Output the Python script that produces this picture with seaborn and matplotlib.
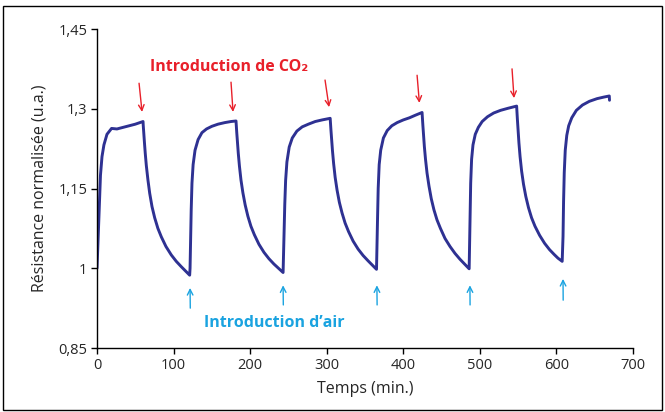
import matplotlib
matplotlib.use("Agg")
import matplotlib.pyplot as plt
import matplotlib.patches as mpatches
import seaborn as sns
import pandas as pd

# ---- data ----
t_c1 = [0, 1.5, 3, 4.5, 6.5, 9, 13, 19, 26, 34, 42, 50, 58, 60.1,
        60.3, 61, 62, 63, 64.4, 66.5, 68.8, 71.8, 75.3, 79.5, 84, 90, 97, 103.5, 110, 115.5, 121]
r_c1 = [1.0, 1.06, 1.12, 1.175, 1.21, 1.232, 1.252, 1.263, 1.262, 1.265, 1.268, 1.271, 1.275, 1.276,
        1.27, 1.255, 1.235, 1.216, 1.193, 1.166, 1.141, 1.116, 1.095, 1.075, 1.059, 1.041, 1.025,
        1.013, 1.003, 0.995, 0.987]
t_c2 = [121.5, 122.3, 123, 124, 125.5, 128, 132, 137, 143, 150, 158, 167, 175, 181.5,
        181.8, 182.5, 183.5, 184.5, 186, 188, 190.5, 193.5, 197, 201, 205.5, 211.5, 218, 224.5,
        231, 237, 243]
r_c2 = [1.0, 1.06, 1.11, 1.16, 1.195, 1.222, 1.242, 1.255, 1.262, 1.267, 1.271, 1.274, 1.276, 1.277,
        1.27, 1.255, 1.236, 1.216, 1.192, 1.166, 1.142, 1.119, 1.098, 1.079, 1.063, 1.045, 1.03,
        1.018, 1.008, 1.0, 0.992]
t_c3 = [243.5, 244.3, 245.2, 246.3, 248, 251, 255, 261, 268, 276, 285, 294, 304.5,
        304.8, 305.5, 306.5, 307.5, 309, 311, 313.5, 316.5, 320, 324, 328.5, 334.5, 341, 347.5,
        354, 359.5, 365]
r_c3 = [1.02, 1.07, 1.12, 1.165, 1.2, 1.228, 1.245, 1.258, 1.266, 1.271, 1.276, 1.279, 1.282,
        1.275, 1.26, 1.241, 1.221, 1.197, 1.171, 1.147, 1.124, 1.104, 1.085, 1.069, 1.051, 1.036,
        1.024, 1.014, 1.006, 0.998]
t_c4 = [365.5, 366.3, 367.2, 368.5, 370.5, 374, 379, 385, 392, 400, 408, 416, 424.5,
        424.8, 425.5, 426.5, 427.5, 429, 431, 433.5, 436.5, 440, 444, 448.5, 454.5, 461, 467.5,
        474, 480, 486]
r_c4 = [1.03, 1.09, 1.15, 1.195, 1.222, 1.245, 1.259, 1.268, 1.274, 1.279, 1.283, 1.288, 1.293,
        1.286, 1.27, 1.25, 1.229, 1.205, 1.179, 1.155, 1.131, 1.11, 1.091, 1.075, 1.056, 1.041,
        1.028, 1.017, 1.008, 0.999]
t_c5 = [486.5, 487.2, 488, 489.2, 491, 494, 498, 503, 510, 518, 527, 537, 548,
        548.3, 549, 550, 551, 552.5, 554.5, 557, 560, 563.5, 567.5, 572, 578, 584.5, 591, 597,
        602, 607.5]
r_c5 = [1.04, 1.1, 1.16, 1.205, 1.232, 1.252, 1.265, 1.276, 1.285, 1.292, 1.297, 1.301, 1.305,
        1.297, 1.28, 1.258, 1.236, 1.21, 1.183, 1.158, 1.135, 1.114, 1.095, 1.079, 1.062, 1.047,
        1.035, 1.026, 1.019, 1.013]
t_c6 = [608.6, 609.3, 610.2, 611.5, 613.5, 616, 620, 626, 634, 643, 653, 662, 669, 669.3]
r_c6 = [1.06, 1.125, 1.18, 1.222, 1.25, 1.268, 1.283, 1.297, 1.307, 1.314, 1.319, 1.322, 1.324, 1.316]

co2_tail = [(54.9, 1.348), (175.0, 1.350), (297.8, 1.354), (418.0, 1.363), (542.0, 1.375)]
co2_tip = [(58.8, 1.294), (177.6, 1.294), (303.0, 1.303), (421.0, 1.311), (544.6, 1.320)]
air_tail = [(121.8, 0.925), (243.3, 0.931), (365.8, 0.931), (487.2, 0.931), (608.8, 0.940)]
air_tip = [(121.5, 0.963), (243.0, 0.968), (365.5, 0.968), (487.0, 0.968), (608.6, 0.980)]

x_ticks = [0, 100, 200, 300, 400, 500, 600, 700]
y_ticks = [0.85, 1.0, 1.15, 1.3, 1.45]
y_tick_labels = ["0,85", "1", "1,15", "1,3", "1,45"]

# ---- plot ----
sns.set_style("white")
plt.rcParams["font.family"] = ["Open Sans", "DejaVu Sans"]

time = t_c1 + t_c2 + t_c3 + t_c4 + t_c5 + t_c6
res = r_c1 + r_c2 + r_c3 + r_c4 + r_c5 + r_c6
df = pd.DataFrame({"t": time, "r": res})

fig = plt.figure(figsize=(6.65, 4.12), dpi=100)
ax = fig.add_axes([0.1459, 0.1553, 0.806, 0.7743])
sns.lineplot(data=df, x="t", y="r", ax=ax, sort=False, estimator=None,
             color="#2e3192", linewidth=2.1)

ax.set_xlim(0, 700)
ax.set_ylim(0.85, 1.45)
ax.set_xticks(x_ticks)
ax.set_xticklabels([str(v) for v in x_ticks], fontsize=10.5)
ax.set_yticks(y_ticks)
ax.set_yticklabels(y_tick_labels, fontsize=10.5)
ax.tick_params(axis="both", direction="out", length=4, width=1, color="black",
               bottom=True, left=True, pad=3)
for s in ["top", "right"]:
    ax.spines[s].set_visible(False)
for s in ["left", "bottom"]:
    ax.spines[s].set_color("black")
    ax.spines[s].set_linewidth(1.0)
ax.set_xlabel("Temps (min.)", fontsize=11.5, labelpad=6)
ax.set_ylabel("Résistance normalisée (u.a.)", fontsize=11.5, labelpad=8)

red = "#e8202a"
cyan = "#1aa3e0"
for tail, tip in zip(co2_tail, co2_tip):
    ax.annotate("", xy=tip, xytext=tail,
                arrowprops=dict(arrowstyle="->", color=red, lw=1.0,
                                shrinkA=0, shrinkB=0, mutation_scale=10))
for tail, tip in zip(air_tail, air_tip):
    ax.annotate("", xy=tip, xytext=tail,
                arrowprops=dict(arrowstyle="->", color=cyan, lw=1.0,
                                shrinkA=0, shrinkB=0, mutation_scale=10))

ax.text(172, 1.378, "Introduction de CO₂", color=red, fontsize=11.5,
        fontweight="bold", ha="center", va="center")
ax.text(232, 0.897, "Introduction d’air", color=cyan, fontsize=11.5,
        fontweight="bold", ha="center", va="center")

fig.patches.append(mpatches.Rectangle((0.004, 0.004), 0.992, 0.982, transform=fig.transFigure,
                                      fill=False, edgecolor="black", linewidth=1.0))

fig.savefig("out.png", dpi=100)
